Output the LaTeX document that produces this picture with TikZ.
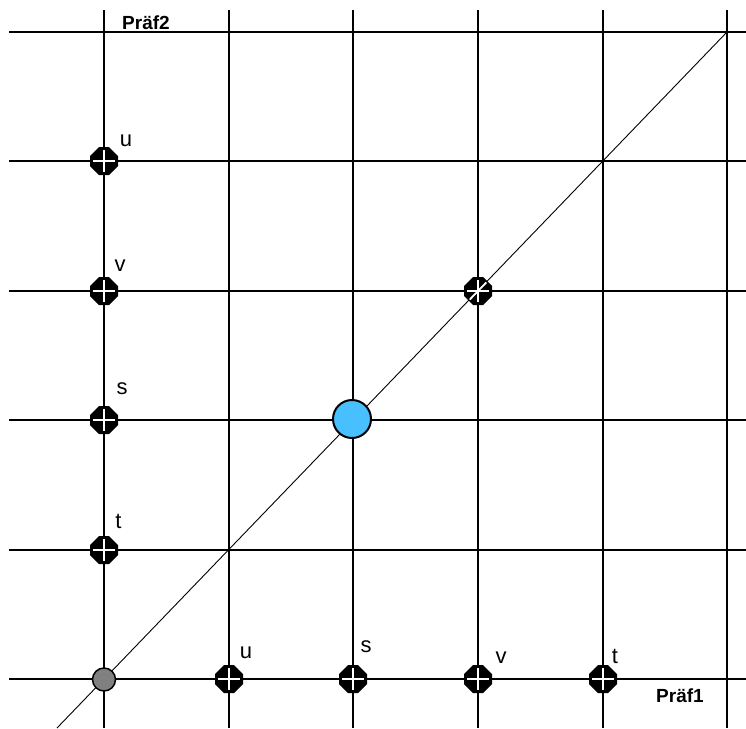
\documentclass[tikz,border=0pt]{standalone}
\usepackage{fontspec}
\setmainfont{Liberation Sans}
\definecolor{nashblue}{RGB}{72,192,255}
\definecolor{origray}{RGB}{128,128,128}
\begin{document}
\begin{tikzpicture}[x=1pt,y=-1pt,
  gridline/.style={line width=2pt},
  diag/.style={line width=0.9pt},
  lbl/.style={font=\fontsize{22}{22}\selectfont, anchor=base, inner sep=0pt},
  axislbl/.style={font=\bfseries\fontsize{19}{19}\selectfont, inner sep=0pt},
  stone/.pic={
    \fill[black] (-5,-14) -- (5,-14) -- (14,-5) -- (14,5) -- (5,14) -- (-5,14) -- (-14,5) -- (-14,-5) -- cycle;
    \draw[white,line width=2pt] (-11,0) -- (11,0) (0,-11) -- (0,11);
  }]
\useasboundingbox (0,0) rectangle (746,728);
% grid
\foreach \x in {104,229,353,478,603,727}
  \draw[gridline] (\x,10) -- (\x,728);
\foreach \y in {32,161,291,420,550,679}
  \draw[gridline] (9,\y) -- (746,\y);
% diagonal
\coordinate (d0) at (57,728);
\coordinate (d1) at (727,32);
\draw[diag] (d0) -- (d1);
% markers on axes
\pic at (104,161) {stone};
\pic at (104,291) {stone};
\pic at (104,420) {stone};
\pic at (104,550) {stone};
\pic at (229,679) {stone};
\pic at (353,679) {stone};
\pic at (478,679) {stone};
\pic at (603,679) {stone};
\pic at (478,291) {stone};
\coordinate (m0) at (469.7,299.6);
\coordinate (m1) at (486.3,282.4);
\draw[white,line width=1.8pt] (m0) -- (m1);
% circles
\node[circle,draw,line width=2pt,fill=nashblue,minimum size=38pt,inner sep=0pt] (nash) at (352,419) {};
\node[circle,draw,line width=1.5pt,fill=origray,minimum size=23pt,inner sep=0pt] (origin) at (104,679.5) {};
% labels
\node[lbl] (lu) at (126,146) {u};
\node[lbl] (lv) at (120,271) {v};
\node[lbl] (ls) at (122,394) {s};
\node[lbl] (lt) at (118.5,528) {t};
\node[lbl] (bu) at (246,658) {u};
\node[lbl] (bs) at (366,652) {s};
\node[lbl] (bv) at (501,663) {v};
\node[lbl] (bt) at (615,663) {t};
\node[axislbl] (p2) at (146,23) {Präf2};
\node[axislbl] (p1) at (680,696) {Präf1};
\end{tikzpicture}
\end{document}
